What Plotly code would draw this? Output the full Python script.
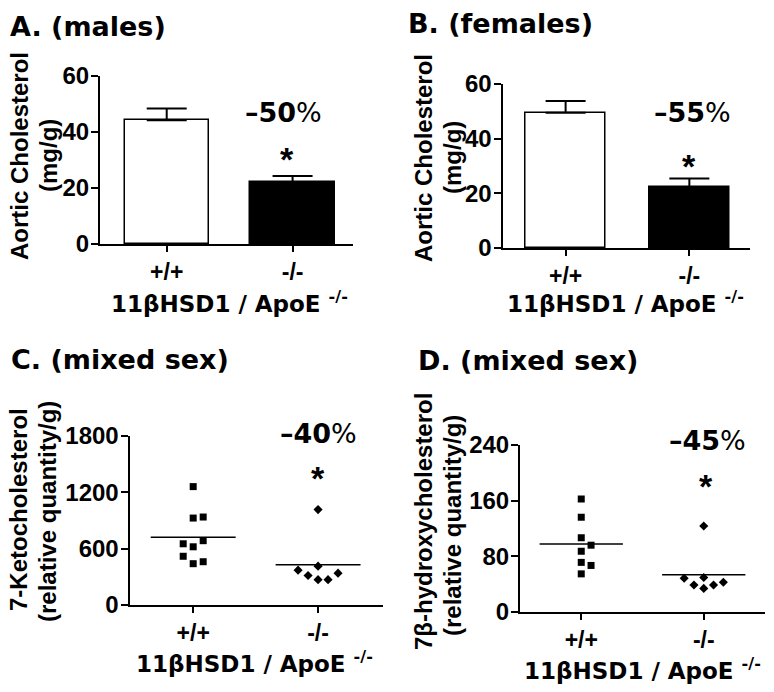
import numpy as np
import plotly.graph_objects as go

# ---------------- data ----------------
groups = ["+/+", "-/-"]

a_mean = [44.2, 22.1]
a_sem = [4.2, 2.2]

b_mean = [49.5, 22.2]
b_sem = [4.3, 3.2]

c_wt = [1261, 926, 937, 652, 620, 685, 519, 440, 461]
c_ko = [1016, 414, 371, 314, 270, 270, 339]

d_wt = [162.4, 136.2, 106.7, 96.0, 87.3, 71.3, 66.9, 54.8]
d_ko = [123.6, 48.5, 49.5, 38.8, 33.9, 38.8, 42.7]

pct_labels = ["–50", "–55", "–40", "–45"]

# horizontal scatter spread (styling only, category units)
c_wt_jit = [0, 0, 0.08, -0.08, 0, 0.08, -0.08, 0, 0.08]
c_ko_jit = [0, 0, -0.16, -0.08, 0, 0.08, 0.16]
d_wt_jit = [0, 0, 0, 0.08, 0, 0, 0.08, 0]
d_ko_jit = [0, -0.16, 0, -0.08, 0, 0.08, 0.16]

# ---------------- layout helpers ----------------
W, H = 774, 692
WIDE = "DejaVu Sans"
ARIAL = "Liberation Sans"


def px(x):
    return x / W


def py(y):
    return 1 - y / H


fig = go.Figure()

bar_cfg = [(a_mean, a_sem, 0.67, "x", "y"), (b_mean, b_sem, 0.65, "x2", "y2")]
for mean, sem, wd, xa, ya in bar_cfg:
    fig.add_trace(go.Bar(
        x=[0, 1], y=mean, width=wd, xaxis=xa, yaxis=ya,
        marker=dict(color=["white", "black"], line=dict(color="black", width=1.5)),
        error_y=dict(type="data", symmetric=False, array=sem, arrayminus=[0, 0],
                     color="black", thickness=2, width=20),
        showlegend=False))


def scatter_group(vals, jit, center, symbol, size, xa, ya):
    xs = [center + j for j in jit]
    fig.add_trace(go.Scatter(x=xs, y=vals, mode="markers", xaxis=xa, yaxis=ya,
                             marker=dict(symbol=symbol, size=size, color="black"),
                             cliponaxis=False, showlegend=False))
    m = float(np.mean(vals))
    fig.add_trace(go.Scatter(x=[center - 0.34, center + 0.34], y=[m, m], mode="lines",
                             xaxis=xa, yaxis=ya, line=dict(color="black", width=1.5),
                             showlegend=False))


scatter_group(c_wt, c_wt_jit, 0, "square", 7, "x3", "y3")
scatter_group(c_ko, c_ko_jit, 1, "diamond", 7, "x3", "y3")
scatter_group(d_wt, d_wt_jit, 0, "square", 7, "x4", "y4")
scatter_group(d_ko, d_ko_jit, 1, "diamond", 7, "x4", "y4")


def xax(x0, x1, rng, anchor):
    return dict(domain=[px(x0), px(x1)], range=rng, anchor=anchor,
                tickvals=[0, 1], ticktext=groups, showline=True, linecolor="black",
                linewidth=2, ticks="outside", ticklen=6, tickwidth=2, tickcolor="black",
                showgrid=False, zeroline=False, automargin=False,
                tickfont=dict(family=ARIAL, size=23, color="black", weight="bold"))


def yax(y_top, y_bot, rng, tv, anchor):
    return dict(domain=[py(y_bot), py(y_top)], range=rng, anchor=anchor,
                tickvals=tv, showline=True, linecolor="black", linewidth=2,
                ticks="outside", ticklen=7, tickwidth=2, tickcolor="black",
                showgrid=False, zeroline=False, automargin=False,
                ticklabelstandoff=-3,
                tickfont=dict(family=ARIAL, size=24, color="black", weight="bold"))


fig.update_layout(
    width=W, height=H, margin=dict(l=0, r=0, t=0, b=0, pad=0, autoexpand=False),
    plot_bgcolor="white", paper_bgcolor="white", bargap=0,
    xaxis=xax(100, 353, [-0.53, 1.48], "y"),
    yaxis=yax(76, 244, [0, 60], [0, 20, 40, 60], "x"),
    xaxis2=xax(502.5, 750, [-0.51, 1.49], "y2"),
    yaxis2=yax(84, 248, [0, 60], [0, 20, 40, 60], "x2"),
    xaxis3=xax(129.5, 383, [-0.51, 1.52], "y3"),
    yaxis3=yax(436, 605, [0, 1800], [0, 600, 1200, 1800], "x3"),
    xaxis4=xax(520, 765, [-0.50, 1.50], "y4"),
    yaxis4=yax(445, 612, [0, 240], [0, 80, 160, 240], "x4"),
)

ann = []


def txt(text, x, y, size, family=WIDE, bold=True, xanchor="center", angle=0):
    ann.append(dict(text=text, x=px(x), y=py(y), xref="paper", yref="paper",
                    xanchor=xanchor, yanchor="middle", showarrow=False, textangle=angle,
                    font=dict(family=family, size=size, color="black",
                              weight="bold" if bold else "normal")))


# panel titles
txt("A. (males)", 8, 26, 27, xanchor="left")
txt("B. (females)", 406, 24, 27, xanchor="left")
txt("C. (mixed sex)", 9, 359, 27, xanchor="left")
txt("D. (mixed sex)", 416, 360, 27, xanchor="left")

# y titles (one annotation per line)
txt("Aortic Cholesterol", 19, 156, 24, family=ARIAL, angle=-90)
txt("(mg/g)", 48, 156, 24, family=ARIAL, angle=-90)
txt("Aortic Cholesterol", 424, 158, 24, family=ARIAL, angle=-90)
txt("(mg/g)", 453, 158, 24, family=ARIAL, angle=-90)
txt("7-Ketocholesterol", 18, 510, 24, family=ARIAL, angle=-90)
txt("(relative quantity/g)", 47, 512, 24, family=ARIAL, angle=-90)
txt("7β-hydroxycholesterol", 423, 522, 24, family=ARIAL, angle=-90)
txt("(relative quantity/g)", 452, 526, 24, family=ARIAL, angle=-90)

# x titles
xt = "11βHSD1 / ApoE <sup>-/-</sup>"
txt(xt, 229, 302, 23)
txt(xt, 625, 302, 23)
txt(xt, 255, 662, 23)
txt(xt, 642, 669, 23)

# percent changes and significance stars
pct_pos = [(283, 112), (692, 113), (318, 433), (707, 440)]
star_pos = [(287, 153), (689, 160), (318, 472), (706, 480)]
for lab, (x, y), (sx, sy) in zip(pct_labels, pct_pos, star_pos):
    ann.append(dict(text="<b>" + lab + "</b>%", x=px(x), y=py(y), xref="paper", yref="paper",
                    showarrow=False, xanchor="center", yanchor="middle",
                    font=dict(family=WIDE, size=27, color="black")))
    ann.append(dict(text="<b>*</b>", x=px(sx), y=py(sy), xref="paper", yref="paper",
                    showarrow=False, xanchor="center", yanchor="middle", yshift=-6,
                    font=dict(family=ARIAL, size=34, color="black")))

fig.update_layout(annotations=ann)

fig.write_html("out.html", config={"displayModeBar": False},
               post_script="document.body.style.margin='0';document.body.style.padding='0';")
